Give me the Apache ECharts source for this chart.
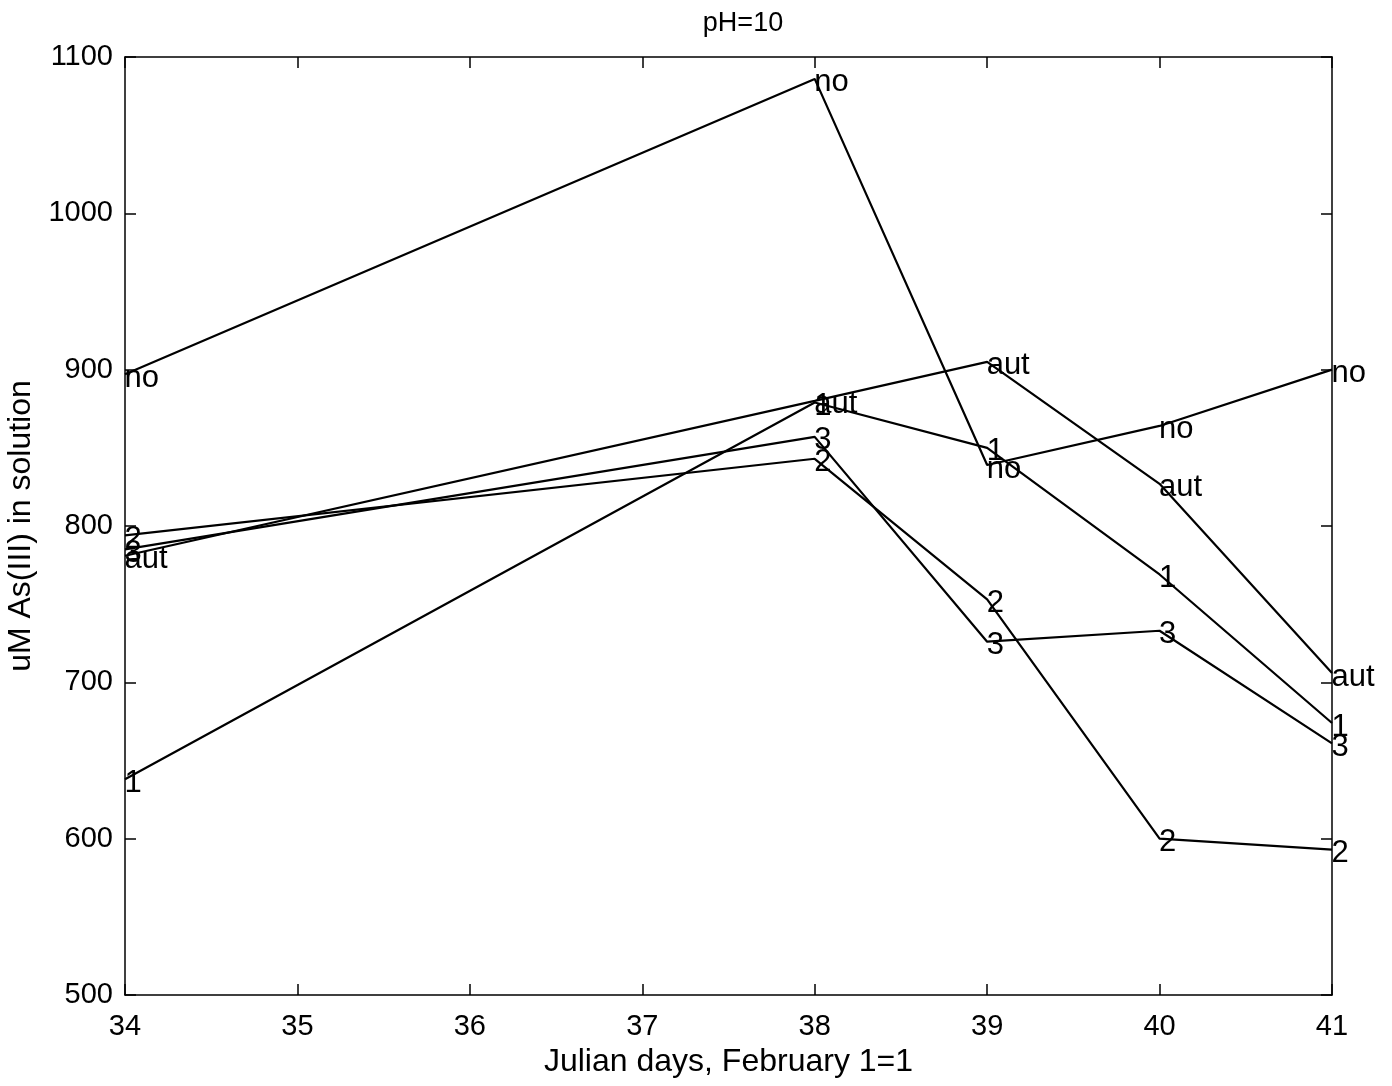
<!DOCTYPE html>
<html>
<head>
<meta charset="utf-8">
<script src="https://cdn.jsdelivr.net/npm/echarts@6/dist/echarts.min.js"></script>
<style>html,body{margin:0;padding:0;background:#fff}#c{width:1392px;height:1086px}</style>
</head>
<body>
<div id="c"></div>
<script>
const days = [34, 38, 39, 40, 41];
const seriesNames = ['no', 'aut', '1', '2', '3'];
const noVals  = [897, 1086, 839, 864, 900];
const autVals = [781, 880, 905, 827, 706];
const oneVals = [638, 879, 850, 769, 674];
const twoVals = [794, 843, 753, 600, 593];
const threeVals = [785, 857, 726, 733, 661];
const xTicks = [34, 35, 36, 37, 38, 39, 40, 41];
const yTicks = [500, 600, 700, 800, 900, 1000, 1100];

const allVals = [noVals, autVals, oneVals, twoVals, threeVals];
const FONT = '"Liberation Sans", Arial, Helvetica, sans-serif';

const chart = echarts.init(document.getElementById('c'));
const axisCommon = {
  axisLine: { show: true, lineStyle: { color: '#000', width: 1.5 } },
  axisTick: { show: true, inside: true, length: 11, lineStyle: { color: '#000', width: 1.5 } },
  splitLine: { show: false }
};
chart.setOption({
  animation: false,
  backgroundColor: '#fff',
  title: {
    text: 'pH=10', left: 738, top: 5, textAlign: 'center',
    textStyle: { fontFamily: FONT, fontSize: 27, fontWeight: 'normal', color: '#000' }
  },
  grid: { left: 125, right: 60, top: 57, bottom: 91, containLabel: false, outerBoundsMode: 'none' },
  xAxis: [
    Object.assign({
      type: 'value', min: xTicks[0], max: xTicks[xTicks.length - 1], interval: 1,
      position: 'bottom',
      name: 'Julian days, February 1=1', nameLocation: 'middle', nameGap: 51,
      nameTextStyle: { fontFamily: FONT, fontSize: 32, color: '#000' },
      axisLabel: { fontFamily: FONT, fontSize: 29, color: '#000', margin: 17 }
    }, axisCommon),
    Object.assign({
      type: 'value', min: xTicks[0], max: xTicks[xTicks.length - 1], interval: 1,
      position: 'top', axisLabel: { show: false }
    }, axisCommon)
  ],
  yAxis: [
    Object.assign({
      type: 'value', min: yTicks[0], max: yTicks[yTicks.length - 1], interval: 100,
      position: 'left',
      name: 'uM As(III) in solution', nameLocation: 'middle', nameGap: 87,
      nameTextStyle: { fontFamily: FONT, fontSize: 32, color: '#000' },
      axisLabel: { fontFamily: FONT, fontSize: 29, color: '#000', margin: 12, formatter: v => String(v) }
    }, axisCommon),
    Object.assign({
      type: 'value', min: yTicks[0], max: yTicks[yTicks.length - 1], interval: 100,
      position: 'right', axisLabel: { show: false }
    }, axisCommon)
  ],
  series: seriesNames.map((n, i) => ({
    name: n,
    type: 'line',
    data: days.map((d, j) => [d, allVals[i][j]]),
    symbol: 'circle',
    symbolSize: 1,
    showSymbol: true,
    itemStyle: { color: 'rgba(0,0,0,0)' },
    lineStyle: { color: '#000', width: 2.2 },
    label: {
      show: true, position: 'right', distance: -1, offset: [0, 4],
      formatter: () => n,
      fontFamily: FONT, fontSize: 31, color: '#000'
    },
    emphasis: { disabled: true },
    z: 3
  }))
});
</script>
</body>
</html>
